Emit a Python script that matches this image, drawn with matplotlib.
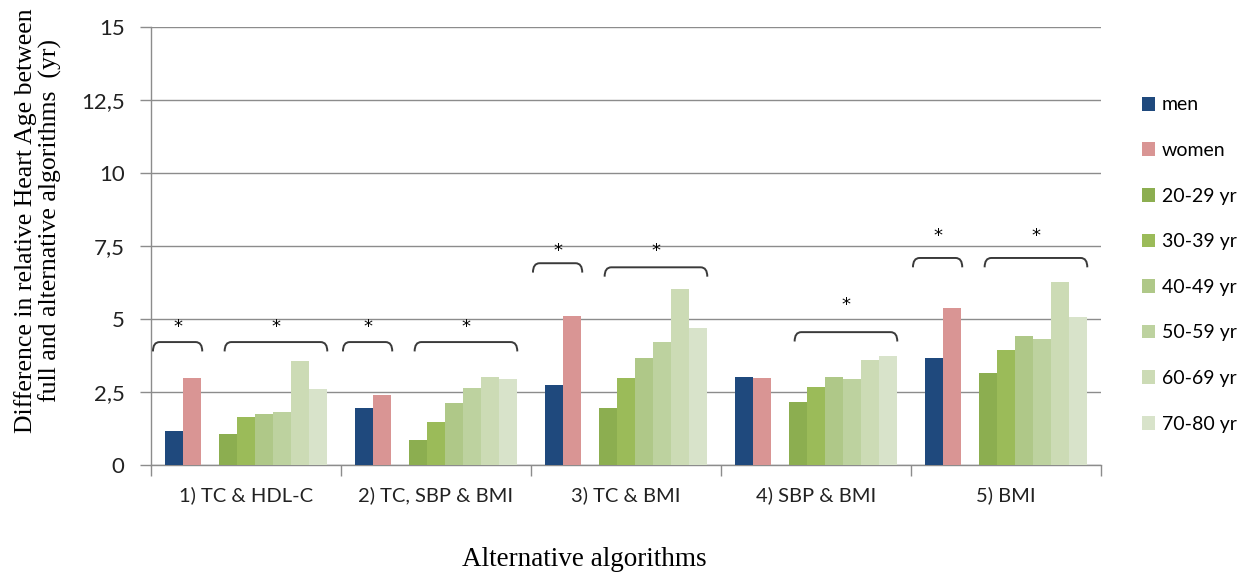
import matplotlib
matplotlib.use("Agg")
import matplotlib.pyplot as plt
from matplotlib.path import Path
from matplotlib.patches import PathPatch
import numpy as np

# ---------------- data ----------------
categories = ["1) TC & HDL-C", "2) TC, SBP & BMI", "3) TC & BMI", "4) SBP & BMI", "5) BMI"]
series_names = ["men", "women", "20-29 yr", "30-39 yr", "40-49 yr", "50-59 yr", "60-69 yr", "70-80 yr"]
men      = [1.15, 1.94, 2.73, 3.02, 3.68]
women    = [2.99, 2.39, 5.11, 2.99, 5.39]
age_20_29 = [1.07, 0.86, 1.94, 2.16, 3.16]
age_30_39 = [1.64, 1.47, 2.99, 2.68, 3.94]
age_40_49 = [1.73, 2.12, 3.68, 3.02, 4.42]
age_50_59 = [1.81, 2.65, 4.20, 2.94, 4.30]
age_60_69 = [3.56, 3.03, 6.03, 3.59, 6.26]
age_70_80 = [2.60, 2.94, 4.68, 3.73, 5.07]
series_values = [men, women, age_20_29, age_30_39, age_40_49, age_50_59, age_60_69, age_70_80]

# significance brackets: (category index, "sex" or "age", bracket height, star height)
brackets = [
    (0, "sex", 4.21, 4.73), (0, "age", 4.21, 4.73),
    (1, "sex", 4.21, 4.73), (1, "age", 4.21, 4.73),
    (2, "sex", 6.91, 7.34), (2, "age", 6.77, 7.34),
    (3, "age", 4.55, 5.47),
    (4, "sex", 7.09, 7.85), (4, "age", 7.09, 7.85),
]
yticks = [0, 2.5, 5, 7.5, 10, 12.5, 15]
ytick_labels = ["0", "2,5", "5", "7,5", "10", "12,5", "15"]

# ---------------- style ----------------
colors = ["#1F497D", "#D99594", "#8CAE50", "#9BBB59", "#AFC888", "#BDD29F", "#CCDBB5", "#D8E3CA"]
slots = [0, 1, 3, 4, 5, 6, 7, 8]
w = 18 / 190
base = 23.3 / 190 - 0.5
tick_font = "Lato"
serif = "Liberation Serif"
grid_col = "#8C8C8C"
fs = 14.5

fig = plt.figure(figsize=(12.55, 5.72), dpi=100)
ax = fig.add_axes([151 / 1255, 1 - 465 / 572, 950 / 1255, 438 / 572])

x = np.arange(len(categories))
for s, (name, vals, col) in enumerate(zip(series_names, series_values, colors)):
    ax.bar(x + base + slots[s] * w, vals, width=w, color=col, label=name, zorder=3, linewidth=0)

def bracket(xl, xr, ytop, drop=0.32, dx=0.035):
    verts = [(xl, ytop - drop), (xl, ytop), (xl + dx, ytop),
             (xr - dx, ytop), (xr, ytop), (xr, ytop - drop)]
    codes = [Path.MOVETO, Path.CURVE3, Path.CURVE3, Path.LINETO, Path.CURVE3, Path.CURVE3]
    ax.add_patch(PathPatch(Path(verts, codes), fill=False, edgecolor="#3A3A3A", lw=1.4, zorder=4))

for ci, kind, yb, ys in brackets:
    if kind == "sex":
        xl = ci + base + slots[0] * w - w / 2 - 0.065
        xr = ci + base + slots[1] * w + w / 2 + 0.005
    else:
        xl = ci + base + slots[2] * w - w / 2 + 0.028
        xr = ci + base + slots[7] * w + w / 2
    bracket(xl, xr, yb)
    ax.text((xl + xr) / 2, ys, "*", ha="center", va="center", fontsize=13,
            color="black", family="DejaVu Sans", zorder=5)

ax.set_xlim(-0.5, len(categories) - 0.5)
ax.set_ylim(0, 15)
ax.set_yticks(yticks)
ax.set_yticklabels(ytick_labels, fontsize=16, family=tick_font, color="#222222")
ax.set_xticks(x)
ax.set_xticklabels(categories, fontsize=fs, family=tick_font, color="#222222")
ax.set_xticks(np.arange(len(categories) + 1) - 0.5, minor=True)
ax.tick_params(axis="x", which="major", length=0, pad=15)
ax.tick_params(axis="x", which="minor", length=8, color=grid_col, width=1)
ax.tick_params(axis="y", length=8, color=grid_col, width=1, pad=11)

ax.yaxis.grid(True, color=grid_col, lw=1, zorder=0)
ax.set_axisbelow(True)
for sp in ["top", "right"]:
    ax.spines[sp].set_visible(False)
for sp in ["left", "bottom"]:
    ax.spines[sp].set_color(grid_col)
    ax.spines[sp].set_linewidth(1)

fig.text(0.030, 0.615, "Difference in relative Heart Age between\nfull and alternative algorithms  (yr)",
         rotation=90, ha="center", va="center", fontsize=18.5, family=serif, linespacing=1.1)
fig.text(584 / 1255, 1 - 560 / 572, "Alternative algorithms", ha="center", va="center",
         fontsize=19.5, family=serif)

handles, labels = ax.get_legend_handles_labels()
leg = fig.legend(handles, labels, loc="upper left", bbox_to_anchor=(1124 / 1255, 1 - 79 / 572),
                 frameon=False, handlelength=0.7, handleheight=0.7,
                 handletextpad=0.35, labelspacing=1.47, prop={"family": tick_font, "size": 14})

fig.savefig("out.png", dpi=100)
